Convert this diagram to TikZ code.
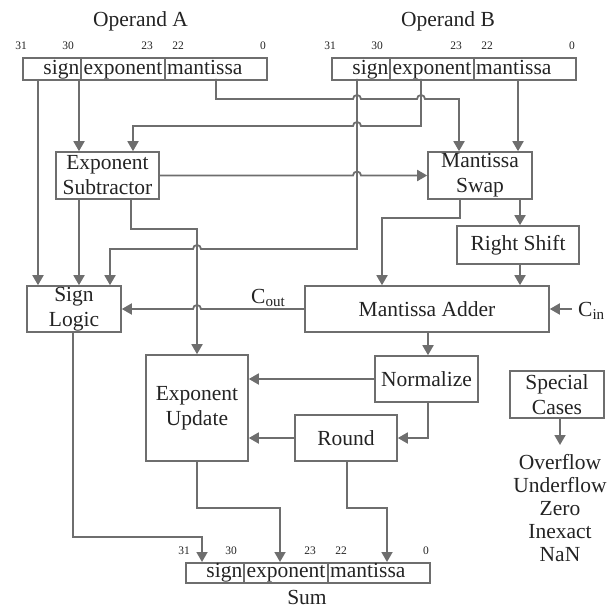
\documentclass[tikz,border=0pt]{standalone}
\usepackage{fontspec}
\setmainfont{Liberation Serif}
\usetikzlibrary{arrows.meta}
\definecolor{ln}{RGB}{110,110,110}
\definecolor{tx}{RGB}{35,35,35}
\tikzset{
  wire/.style={draw=ln,line width=1.8pt},
  arr/.style={wire,-{Triangle[length=10pt,width=11pt]}},
  blk/.style={draw=ln,line width=1.6pt,inner sep=0pt,align=center,text=tx,font=\fontsize{21.5}{25}\selectfont},
  lbl/.style={inner sep=0pt,text=tx,font=\fontsize{21.5}{23}\selectfont},
  bit/.style={inner sep=0pt,text=tx,font=\fontsize{11.5}{12}\selectfont,anchor=base},
  regn/.style={draw=ln,line width=1.6pt,inner sep=0pt,minimum width=244pt},
  divl/.style={draw=ln,line width=1.2pt},
}
\newcommand\regbox[4]{%
  \node[regn,minimum height=#4pt,anchor=north west] (#1) at (#2,#3) {};
  \draw[divl] (#2+59,#3) -- (#2+59,#3+#4);
  \draw[divl] (#2+143,#3) -- (#2+143,#3+#4);
  \node[lbl,anchor=base east] (#1-s) at (#2+57.5,#3+#4-4.5) {sign};
  \node[lbl,anchor=base] (#1-e) at (#2+101,#3+#4-4.5) {exponent};
  \node[lbl,anchor=base west] (#1-m) at (#2+145,#3+#4-4.5) {mantissa};
  \node[bit] (#1-b31) at (#2-1,#3-7.5) {31};
  \node[bit] (#1-b30) at (#2+46,#3-7.5) {30};
  \node[bit] (#1-b23) at (#2+125,#3-7.5) {23};
  \node[bit] (#1-b22) at (#2+156,#3-7.5) {22};
  \node[bit] (#1-b0) at (#2+241,#3-7.5) {0};
}
\begin{document}
\begin{tikzpicture}[x=1pt,y=-1pt]
\useasboundingbox (0,0) rectangle (607,609);

% titles
\node[lbl,anchor=base] (tA) at (140.5,27) {Operand A};
\node[lbl,anchor=base] (tB) at (448,27) {Operand B};
\node[lbl,anchor=base] (tS) at (307,604) {Sum};

% registers
\regbox{A}{22}{57}{22}
\regbox{B}{331}{57}{22}
\regbox{S}{185}{562}{20}

% blocks
\node[blk,minimum width=103pt,minimum height=47pt] (es) at (107.5,175.5) {Exponent\\Subtractor};
\node[blk,minimum width=104pt,minimum height=47pt] (ms) at (480,175.5) {Mantissa\\Swap};
\node[blk,minimum width=122pt,minimum height=38pt] (rs) at (518,245) {Right Shift};
\node[blk,minimum width=244pt,minimum height=46pt] (ma) at (427,309) {Mantissa Adder};
\node[blk,minimum width=94pt,minimum height=46pt] (sl) at (74,309) {Sign\\Logic};
\node[blk,minimum width=102pt,minimum height=106pt] (eu) at (197,408) {Exponent\\Update};
\node[blk,minimum width=103pt,minimum height=46pt] (nz) at (426.5,379) {Normalize};
\node[blk,minimum width=102pt,minimum height=46pt] (rd) at (346,438) {Round};
\node[blk,minimum width=94pt,minimum height=47pt] (sc) at (557,394.5) {Special\\Cases};

% special cases list
\node[lbl,anchor=base] (f1) at (560,469) {Overflow};
\node[lbl,anchor=base] (f2) at (560,492) {Underflow};
\node[lbl,anchor=base] (f3) at (560,515) {Zero};
\node[lbl,anchor=base] (f4) at (560,538) {Inexact};
\node[lbl,anchor=base] (f5) at (560,561) {NaN};

% taps
\coordinate (aS) at (38,79);
\coordinate (aE) at (79,79);
\coordinate (aM) at (216,79);
\coordinate (bS) at (357,79);
\coordinate (bE) at (421,79);
\coordinate (bM) at (518,79);
\coordinate (cin) at (572,309);
\coordinate (scx) at (560,445);

% connectors from operands
\draw[arr] (aS) -- (aS |- sl.north);
\draw[arr] (aE) -- (aE |- es.north);
\draw[arr] (aM) -- (216,99) -- (353,99) arc[start angle=180,end angle=0,radius=4pt]
  -- (417,99) arc[start angle=180,end angle=0,radius=4pt] -- (459,99) -- (459,99 |- ms.north);
\draw[arr] (bE) -- (421,126) -- (361,126) arc[start angle=0,end angle=180,radius=4pt]
  -- (133,126) -- (133,126 |- es.north);
\draw[arr] (bM) -- (bM |- ms.north);
\draw[arr] (bS) -- (357,249) -- (201,249) arc[start angle=0,end angle=180,radius=4pt]
  -- (110,249) -- (110,249 |- sl.north);

% exponent subtractor outputs
\draw[arr] (es.east) -- (353,175.5) arc[start angle=180,end angle=0,radius=4pt] -- (ms.west);
\draw[arr] (79,0 |- es.south) -- (79,0 |- sl.north);
\draw[arr] (131,0 |- es.south) -- (131,229) -- (197,229) -- (197,0 |- eu.north);

% mantissa path
\draw[arr] (460,0 |- ms.south) -- (460,218) -- (382,218) -- (382,0 |- ma.north);
\draw[arr] (520,0 |- ms.south) -- (520,0 |- rs.north);
\draw[arr] (520,0 |- rs.south) -- (520,0 |- ma.north);
\draw[arr] (ma.west) -- (201,309) arc[start angle=0,end angle=180,radius=4pt] -- (sl.east);
\node[lbl,anchor=base west] (cout) at (251,303) {C\textsubscript{out}};
\draw[arr] (cin) -- (ma.east);
\node[lbl,anchor=base west] (cinl) at (578,316) {C\textsubscript{in}};
\draw[arr] (428,0 |- ma.south) -- (428,0 |- nz.north);
\draw[arr] (nz.west) -- (nz.west -| eu.east);
\draw[arr] (428,0 |- nz.south) |- (rd.east);
\draw[arr] (rd.west) -- (rd.west -| eu.east);

% to sum
\draw[arr] (197,0 |- eu.south) -- (197,508) -- (280,508) -- (280,0 |- S.north);
\draw[arr] (347,0 |- rd.south) -- (347,508) -- (387,508) -- (387,0 |- S.north);
\draw[arr] (73,0 |- sl.south) -- (73,537) -- (202,537) -- (202,0 |- S.north);

% special cases
\draw[arr] (560,0 |- sc.south) -- (scx);
\end{tikzpicture}
\end{document}
